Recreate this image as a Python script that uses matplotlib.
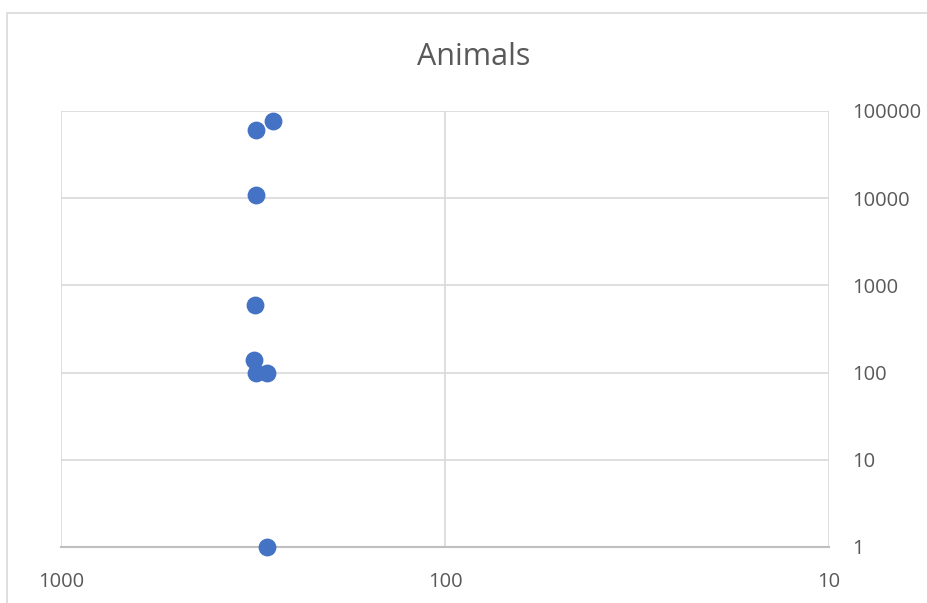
import matplotlib.pyplot as plt
from matplotlib.patches import Rectangle
from matplotlib.ticker import FixedLocator, FixedFormatter, NullLocator

# body mass ratio vs count
x_vals = [280, 310, 310, 312, 314, 310, 291, 291]
y_vals = [76700, 60500, 10900, 596, 139, 100, 100, 1]

x_ticks = [1000, 100, 10]
y_ticks = [1, 10, 100, 1000, 10000, 100000]

plt.rcParams['font.family'] = ['Open Sans', 'DejaVu Sans']

W, H = 928, 603
fig = plt.figure(figsize=(W / 100, H / 100), dpi=100)
fig.patch.set_facecolor('white')

# outer chart border (cropped at right and bottom)
fig.patches.append(Rectangle((7 / W, -0.05), 1.0, (H - 13) / H + 0.05,
                             transform=fig.transFigure, fill=False,
                             edgecolor='#d9d9d9', linewidth=1.2))

ax = fig.add_axes([61 / W, (H - 547) / H, (829 - 61) / W, (547 - 111) / H])
ax.set_xscale('log')
ax.set_yscale('log')
ax.set_xlim(1000, 10)
ax.set_ylim(1, 100000)

ax.xaxis.set_major_locator(FixedLocator(x_ticks))
ax.xaxis.set_major_formatter(FixedFormatter([str(t) for t in x_ticks]))
ax.xaxis.set_minor_locator(NullLocator())
ax.yaxis.set_major_locator(FixedLocator(y_ticks))
ax.yaxis.set_major_formatter(FixedFormatter([str(t) for t in y_ticks]))
ax.yaxis.set_minor_locator(NullLocator())
ax.yaxis.tick_right()

ax.grid(True, color='#d9d9d9', linewidth=1.2)
ax.set_axisbelow(True)
for s in ['top', 'right', 'left']:
    ax.spines[s].set_visible(False)
ax.spines['bottom'].set_color('#bfbfbf')
ax.spines['bottom'].set_linewidth(1.5)

ax.tick_params(axis='both', length=0, labelsize=14.5, labelcolor='#595959')
ax.tick_params(axis='y', pad=17)
ax.tick_params(axis='x', pad=18)

ax.scatter(x_vals, y_vals, s=140, color='#4472c4', zorder=3, clip_on=False)

fig.text(474 / W, 1 - 57 / H, 'Animals', ha='center', va='center',
         fontsize=22, color='#595959')

fig.savefig('out.png', dpi=100)
